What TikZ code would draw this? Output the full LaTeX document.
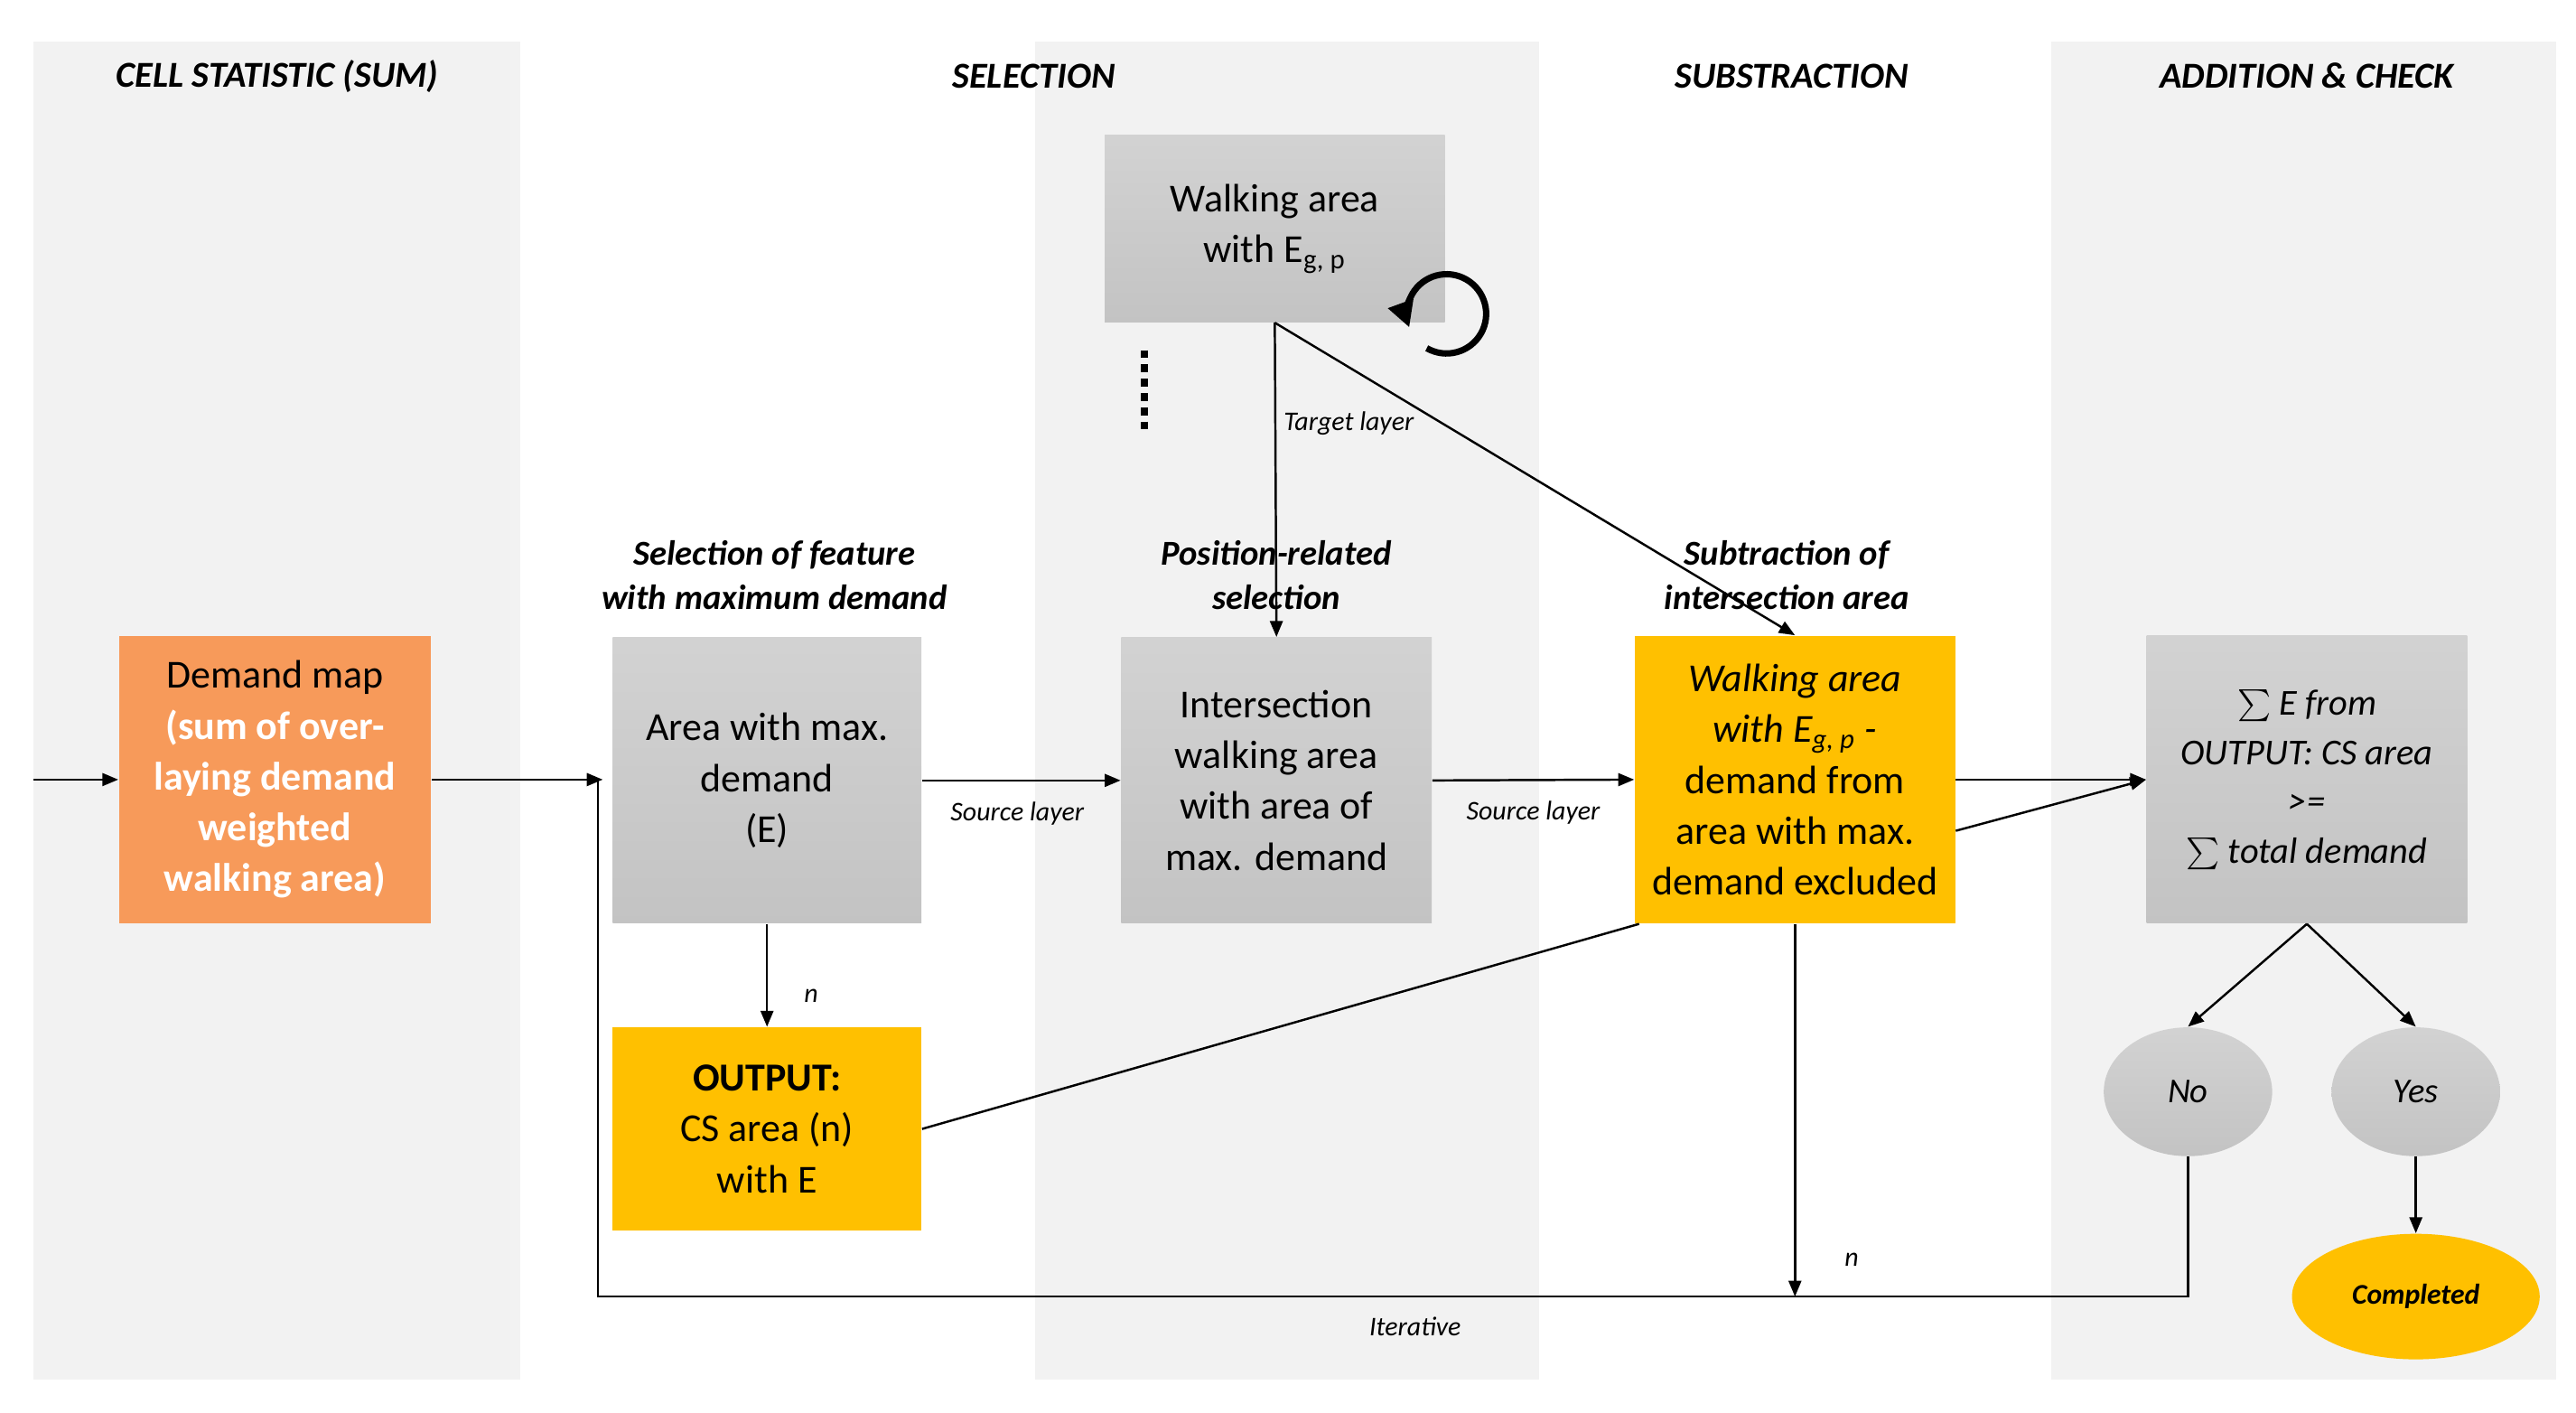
\documentclass[tikz,border=0pt]{standalone}
\usepackage{fontspec}
\setmainfont{Carlito}
\usetikzlibrary{arrows.meta,shapes.geometric}
\definecolor{band}{HTML}{F2F2F2}
\definecolor{orng}{HTML}{F79A5A}
\definecolor{yel}{HTML}{FFC000}
\newlength{\pu}\setlength{\pu}{0.01828cm}
\tikzset{
 box/.style={rectangle,inner sep=0pt,align=center,font=\fontsize{12.5}{16}\selectfont},
 gbox/.style={box,top color=gray!35,bottom color=gray!47,draw=none},
 ybox/.style={box,fill=yel},
 gell/.style={ellipse,inner sep=0pt,top color=gray!35,bottom color=gray!47,minimum width=102\pu,minimum height=78\pu,font=\fontsize{11}{13}\selectfont\itshape},
 arr/.style={-{Triangle[length=5pt,width=4pt]},line width=0.7pt},
 ln/.style={line width=0.7pt},
 hdr/.style={font=\fontsize{11.5}{13}\selectfont\bfseries\itshape},
 sub/.style={font=\fontsize{11}{14}\selectfont\bfseries\itshape,align=center},
 lab/.style={font=\fontsize{8.5}{10}\selectfont\itshape},
}
\begin{document}
\begin{tikzpicture}[x=0.01828cm,y=-0.01828cm]
\useasboundingbox (0,0) rectangle (1560,855);
\fill[band] (20,25) rectangle (315,835);
\fill[band] (627,25) rectangle (932,835);
\fill[band] (1242,25) rectangle (1548,835);
\node[hdr] (h1) at (168,46) {CELL STATISTIC (SUM)};
\node[hdr] (h2) at (626,46) {SELECTION};
\node[hdr] (h3) at (1085,46) {SUBSTRACTION};
\node[hdr] (h4) at (1397,46) {ADDITION \& CHECK};

\node[box,fill=orng,minimum width=189\pu,minimum height=174\pu] (dm) at (166.5,472) {Demand map\\\textcolor{white}{\bfseries (sum of over-}\\\textcolor{white}{\bfseries laying demand}\\\textcolor{white}{\bfseries weighted}\\\textcolor{white}{\bfseries walking area)}};
\node[gbox,minimum width=187\pu,minimum height=173\pu] (am) at (464.5,472.5) {Area with max.\\demand\\(E)};
\node[ybox,minimum width=187\pu,minimum height=123\pu] (out) at (464.5,683.5) {\textbf{OUTPUT:}\\CS area (n)\\with E};
\node[gbox,minimum width=206\pu,minimum height=113\pu] (wa) at (772,138.5) {Walking area\\with E\textsubscript{g, p}};
\node[gbox,minimum width=188\pu,minimum height=173\pu] (is) at (773,472.5) {Intersection\\walking area\\with area of\\max. demand};
\node[ybox,minimum width=194\pu,minimum height=174\pu] (wy) at (1087,472) {\itshape Walking area\\\itshape with E\textsubscript{g, p} -\\demand from\\area with max.\\demand excluded};
\node[gbox,minimum width=194\pu,minimum height=174\pu,font=\fontsize{11.5}{15.5}\selectfont\itshape] (sm) at (1397,472) {$\sum$ E from\\OUTPUT: CS area\\>=\\$\sum$ total demand};
\node[gell] (no) at (1325,661) {No};
\node[gell] (yes) at (1463,661) {Yes};
\node[ellipse,inner sep=0pt,fill=yel,minimum width=150\pu,minimum height=76\pu,font=\fontsize{9}{11}\selectfont\bfseries\itshape] (cp) at (1463,785) {Completed};

\node[sub] (s1) at (469,348) {Selection of feature\\with maximum demand};
\node[sub] (s2) at (773,348) {Position-related\\selection};
\node[sub] (s3) at (1082,348) {Subtraction of\\intersection area};

\coordinate (in) at (20,472);
\coordinate (amin) at (365,472);
\draw[arr] (in) -- (dm.west);
\draw[arr] (dm.east) -- (amin);
\draw[arr] (am.east) -- (is.west) node[lab,pos=0.48,below=3pt] (l1) {Source layer};
\draw[arr] (is.east) -- (wy.west) node[lab,pos=0.5,below=3pt] (l2) {Source layer};
\draw[arr] (wy.east) -- (sm.west);
\draw[arr] ([yshift=-31\pu]wy.east) -- (sm.west);
\draw[ln] (out.east) -- ([xshift=3\pu]wy.south west);
\draw[arr] (am.south) -- (out.north) node[lab,pos=0.7,right=8pt] (ln1) {n};
\draw[arr] (wa.south) -- (is.north) node[lab,pos=0.32,right=-1pt] (tl) {Target layer};
\draw[arr] (wa.south) -- (wy.north);
\draw[line width=2pt,-{Triangle[length=8pt,width=8pt]}] (864,210.8) arc[start angle=120,end angle=-200,radius=24];
\draw[line width=2.5pt,dotted] (693,212) -- (693,262);
\draw[arr] (sm.south) -- (no.north);
\draw[arr] (sm.south) -- (yes.north);
\draw[arr] (yes.south) -- (cp.north);
\coordinate (c1) at (1325,785);
\coordinate (c2) at (362,785);
\coordinate (c3) at (1087,785);
\draw[ln] (no.south) -- (c1) -- (c2) -- (362,472);
\draw[arr] (wy.south) -- (c3) node[lab,pos=0.9,right=12pt] (ln2) {n};
\node[lab] (it) at (857,803) {Iterative};
\end{tikzpicture}
\end{document}
